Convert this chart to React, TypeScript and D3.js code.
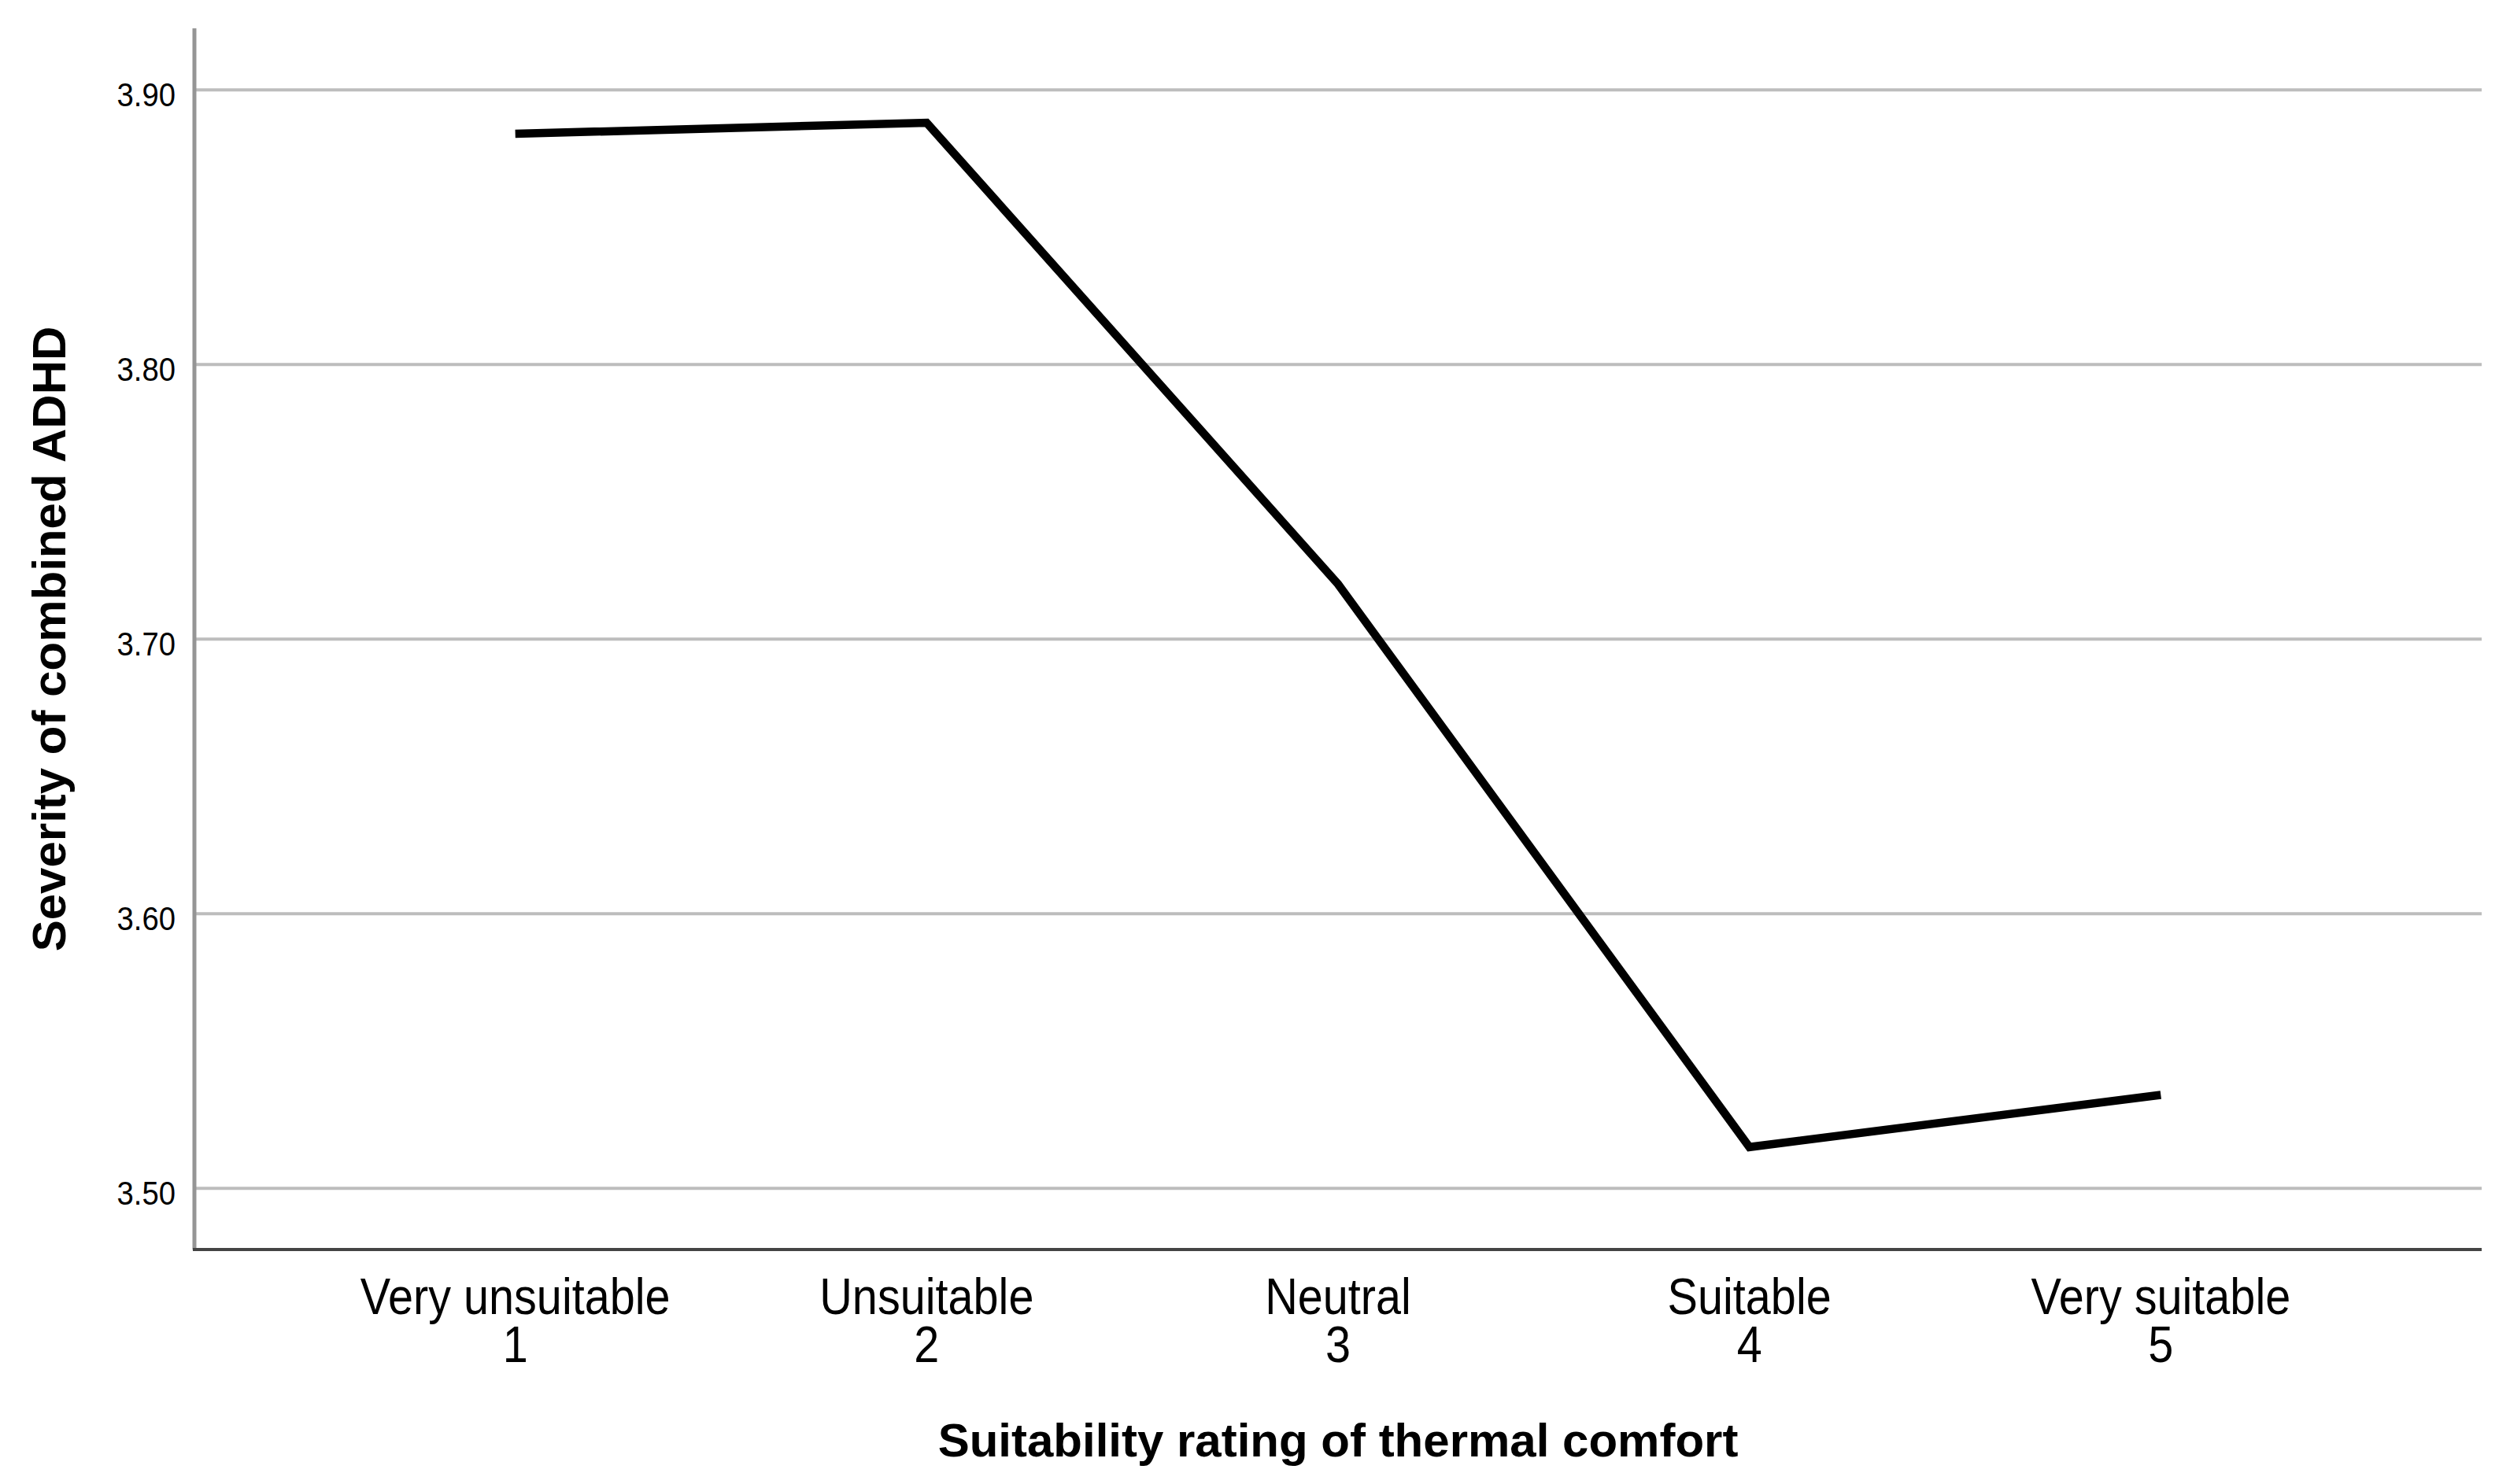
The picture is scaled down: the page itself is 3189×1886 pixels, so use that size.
import { useEffect, useRef } from 'react';
import * as d3 from 'd3';

// data
const categories = ['Very unsuitable', 'Unsuitable', 'Neutral', 'Suitable', 'Very suitable'];
const codes = ['1', '2', '3', '4', '5'];
const severity = [3.884, 3.888, 3.72, 3.515, 3.534];
const yTicks = [3.5, 3.6, 3.7, 3.8, 3.9];

const xTitle = 'Suitability rating of thermal comfort';
const yTitle = 'Severity of combined ADHD';

export default function App() {
    const svgRef = useRef<SVGSVGElement>(null);

    useEffect(() => {
        if (!svgRef.current) return;

        const width = 3189;
        const height = 1886;
        const left = 247;
        const right = 3153;
        const top = 36;
        const bottom = 1588;
        const font = '"Liberation Sans", Arial, sans-serif';

        const svg = d3.select(svgRef.current);
        svg.selectAll('*').remove();
        svg.attr('viewBox', `0 0 ${width} ${height}`);

        svg.append('rect')
            .attr('width', width)
            .attr('height', height)
            .attr('fill', '#fff');

        const x = d3.scalePoint<string>()
            .domain(codes)
            .range([left, right])
            .padding(0.78);

        const y = d3.scaleLinear()
            .domain([3.4777, 3.9224])
            .range([bottom, top]);

        // gridlines
        svg.append('g')
            .selectAll('line')
            .data(yTicks)
            .enter()
            .append('line')
            .attr('x1', left)
            .attr('x2', right)
            .attr('y1', d => y(d))
            .attr('y2', d => y(d))
            .attr('stroke', '#bdbdbd')
            .attr('stroke-width', 4);

        // y tick labels
        svg.append('g')
            .selectAll('text')
            .data(yTicks)
            .enter()
            .append('text')
            .attr('transform', d => `translate(${left - 24},${y(d) + 21}) scale(0.89,1)`)
            .attr('text-anchor', 'end')
            .attr('font-family', font)
            .attr('font-size', 43)
            .attr('fill', '#000')
            .text(d => d3.format('.2f')(d));

        // axes
        svg.append('line')
            .attr('x1', left)
            .attr('x2', left)
            .attr('y1', top)
            .attr('y2', bottom)
            .attr('stroke', '#959595')
            .attr('stroke-width', 5);

        svg.append('line')
            .attr('x1', left - 2)
            .attr('x2', right)
            .attr('y1', bottom)
            .attr('y2', bottom)
            .attr('stroke', '#444')
            .attr('stroke-width', 4);

        // x tick labels: name on the first line, code on the second
        const xl = svg.append('g')
            .selectAll('text')
            .data(codes)
            .enter()
            .append('text')
            .attr('transform', d => `translate(${x(d)},0) scale(0.9,1)`)
            .attr('font-family', font)
            .attr('font-size', 64)
            .attr('text-anchor', 'middle')
            .attr('fill', '#000');

        xl.append('tspan')
            .attr('x', 0)
            .attr('y', 1670)
            .text((d, i) => categories[i]);

        xl.append('tspan')
            .attr('x', 0)
            .attr('y', 1731)
            .text(d => d);

        // line
        const line = d3.line<number>()
            .x((d, i) => x(codes[i]) || 0)
            .y(d => y(d));

        svg.append('path')
            .datum(severity)
            .attr('d', line)
            .attr('fill', 'none')
            .attr('stroke', '#000')
            .attr('stroke-width', 10.5)
            .attr('stroke-linejoin', 'miter');

        // axis titles
        svg.append('text')
            .attr('x', (left + right) / 2)
            .attr('y', 1851)
            .attr('text-anchor', 'middle')
            .attr('font-family', font)
            .attr('font-weight', 'bold')
            .attr('font-size', 60)
            .attr('fill', '#000')
            .text(xTitle);

        svg.append('text')
            .attr('transform', `translate(83,${(top + bottom) / 2}) rotate(-90)`)
            .attr('text-anchor', 'middle')
            .attr('font-family', font)
            .attr('font-weight', 'bold')
            .attr('font-size', 60)
            .attr('fill', '#000')
            .text(yTitle);
    }, []);

    return (
        <svg
            ref={svgRef}
            width={3189}
            height={1886}
            style={{ position: 'absolute', left: 0, top: 0, display: 'block' }}
        />
    );
}
